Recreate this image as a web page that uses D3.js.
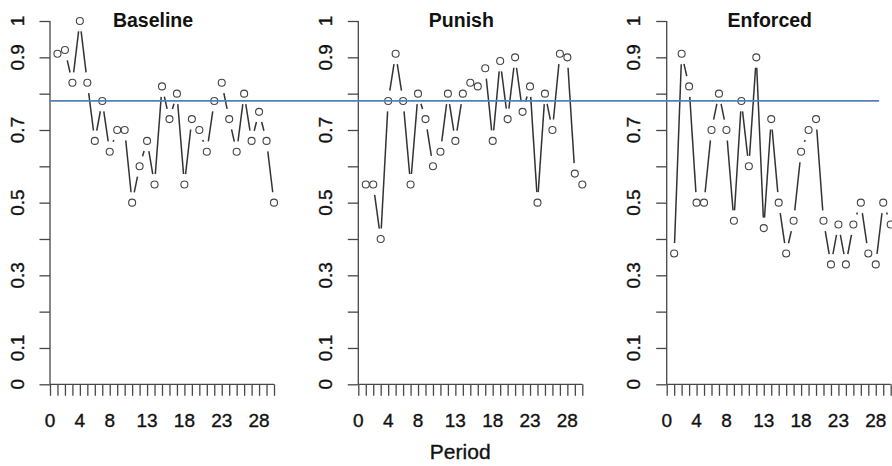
<!DOCTYPE html>
<html><head><meta charset="utf-8">
<script src="https://cdn.jsdelivr.net/npm/d3@7"></script>
<style>
body{margin:0;background:#fff;}
svg{display:block;font-family:"Liberation Sans",Arial,Helvetica,sans-serif;}
</style></head>
<body>
<svg id="chart" width="892" height="466"></svg>
<script>
const panelTitles = ["Baseline", "Punish", "Enforced"];
const periods = d3.range(1, 31);
const baseline = [0.91,0.92,0.83,1.00,0.83,0.67,0.78,0.64,0.70,0.70,0.50,0.60,0.67,0.55,0.82,0.73,0.80,0.55,0.73,0.70,0.64,0.78,0.83,0.73,0.64,0.80,0.67,0.75,0.67,0.50];
const punish   = [0.55,0.55,0.40,0.78,0.91,0.78,0.55,0.80,0.73,0.60,0.64,0.80,0.67,0.80,0.83,0.82,0.87,0.67,0.89,0.73,0.90,0.75,0.82,0.50,0.80,0.70,0.91,0.90,0.58,0.55];
const enforced = [0.36,0.91,0.82,0.50,0.50,0.70,0.80,0.70,0.45,0.78,0.60,0.90,0.43,0.73,0.50,0.36,0.45,0.64,0.70,0.73,0.45,0.33,0.44,0.33,0.44,0.50,0.36,0.33,0.50,0.44];
const seriesList = [baseline, punish, enforced];
const referenceValue = 0.78;
const xTickValues = d3.range(0, 31);
const xTickLabels = [0, 4, 8, 13, 18, 23, 28];
const yTickValues = d3.range(0, 11).map(d => d / 10);
const yTickLabels = [0, 0.1, 0.3, 0.5, 0.7, 0.9, 1];
const xLabel = "Period";

const svg = d3.select("#chart");
const panelLeft = [50, 358.3, 666.7];
const axisLen = 224;
const y = d3.scaleLinear().domain([0, 1]).range([384.3, 21]);
const axisColor = "#474747";
const lineColor = "#333";
const gap = 10.5;

panelLeft.forEach((x0, i) => {
  const x = d3.scaleLinear().domain([0, 30]).range([x0, x0 + axisLen]);
  const g = svg.append("g");
  const vals = seriesList[i];
  const pts = periods.map((p, k) => [x(p), y(vals[k])]);

  // type "b" lines with gaps
  for (let k = 0; k < pts.length - 1; k++) {
    const [x1, y1] = pts[k], [x2, y2] = pts[k + 1];
    const dx = x2 - x1, dy = y2 - y1, L = Math.hypot(dx, dy);
    if (L <= 2 * gap) continue;
    const ux = dx / L, uy = dy / L;
    g.append("line")
      .attr("x1", x1 + ux * gap).attr("y1", y1 + uy * gap)
      .attr("x2", x2 - ux * gap).attr("y2", y2 - uy * gap)
      .attr("stroke", lineColor).attr("stroke-width", 1.5);
  }
  g.selectAll("circle.pt").data(pts).enter().append("circle")
    .attr("class", "pt")
    .attr("cx", d => d[0]).attr("cy", d => d[1]).attr("r", 3.5)
    .attr("fill", "#fff").attr("stroke", "#444").attr("stroke-width", 1.1);

  // y axis
  const yAxis = d3.axisLeft(y).tickValues(yTickValues).tickSize(10.5).tickFormat("");
  const ya = g.append("g").attr("transform", `translate(${x0},0)`).call(yAxis);
  ya.select(".domain").attr("d", `M0,${y(0)}V${y(1)}`);
  ya.selectAll("path,line").attr("stroke", axisColor).attr("stroke-width", 1.3);
  g.selectAll("text.ylab").data(yTickLabels).enter().append("text")
    .attr("class", "ylab")
    .attr("transform", d => `translate(${x0 - 33},${y(d)}) rotate(-90)`)
    .attr("text-anchor", "middle").attr("dy", "0.35em")
    .attr("font-size", 19).attr("fill", "#111")
    .attr("stroke", "#111").attr("stroke-width", 0.35)
    .text(d => d);

  // x axis
  const xAxis = d3.axisBottom(x).tickValues(xTickValues).tickSize(11.5).tickFormat("");
  const xa = g.append("g").attr("transform", `translate(0,${y(0)})`).call(xAxis);
  xa.select(".domain").attr("d", `M${x(0)},0H${x(30)}`);
  xa.selectAll("path,line").attr("stroke", axisColor).attr("stroke-width", 1.3);
  g.selectAll("text.xlab").data(xTickLabels).enter().append("text")
    .attr("class", "xlab")
    .attr("x", d => x(d)).attr("y", 427)
    .attr("text-anchor", "middle").attr("font-size", 19).attr("fill", "#111")
    .attr("stroke", "#111").attr("stroke-width", 0.35)
    .text(d => d);

  // title
  g.append("text").attr("x", x(13.8)).attr("y", 26.5)
    .attr("text-anchor", "middle").attr("font-size", 19.5).attr("font-weight", "bold")
    .attr("fill", "#111").text(panelTitles[i]);

  if (i === 1) {
    g.append("text").attr("x", x(13.65)).attr("y", 459)
      .attr("text-anchor", "middle").attr("font-size", 21).attr("fill", "#111")
      .attr("stroke", "#111").attr("stroke-width", 0.35)
      .text(xLabel);
  }
});

// reference line across all panels
const xFirst = d3.scaleLinear().domain([0, 30]).range([panelLeft[0], panelLeft[0] + axisLen]);
const xLast = d3.scaleLinear().domain([0, 30]).range([panelLeft[2], panelLeft[2] + axisLen]);
svg.append("line")
  .attr("x1", xFirst(0)).attr("x2", xLast(28.45))
  .attr("y1", y(referenceValue)).attr("y2", y(referenceValue))
  .attr("stroke", "#4f81bd").attr("stroke-width", 1.8);
</script>
</body></html>
